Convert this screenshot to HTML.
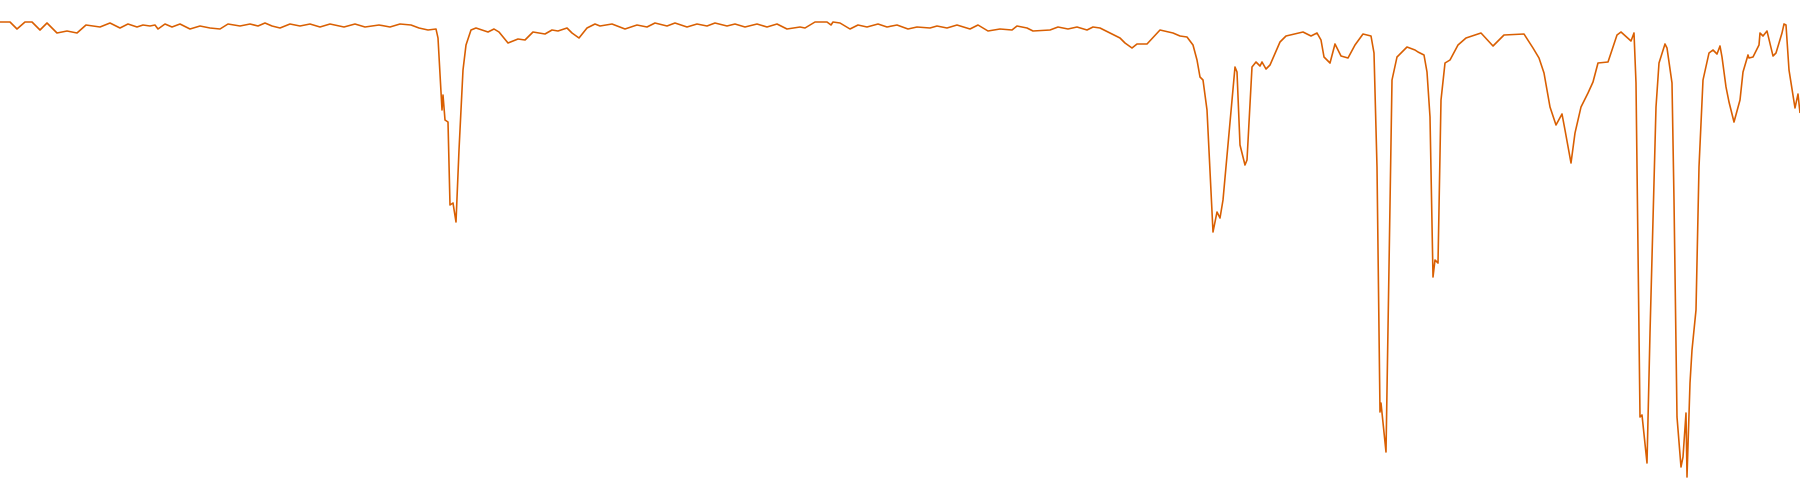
<!DOCTYPE html>
<html><head><meta charset="utf-8"><style>html,body{margin:0;padding:0;background:#fff;width:1800px;height:500px;overflow:hidden}</style></head>
<body>
<svg id="chart" width="1800" height="500" xmlns="http://www.w3.org/2000/svg"></svg>
<script>
const xValues = [0,10,17,25,32,40,47,57,67,77,86,100,110,120,128,137,143,150,155,158,165,172,180,190,200,210,220,228,240,250,258,265,272,280,290,300,310,320,330,344,355,365,379,390,400,411,419,428,436,438,442,443,445,448,450,453,456,459,463,466,471,476,482,488,494,499,
508,518,525,533,545,552,558,567,572,579,587,595,600,612,625,637,647,655,667,675,687,697,707,715,727,735,745,757,767,777,787,800,
805,815,827,831,833,840,850,858,867,878,887,897,908,917,930,937,947,957,970,978,988,1000,1012,1017,1027,1033,1050,1058,1068,1077,1087,1093,
1100,1110,1120,1125,1132,1137,1147,1160,1173,1180,1187,1193,1197,1200,1203,1207,1213,1217,1220,1223,1235,1237,1240,1245,1247,1252,1256,1260,1262,1266,1270,1280,1286,1303,1311,1317,1321,1324,1330,1335,1341,1348,1355,1363,1371,1374,1377,1380,1381,1386,1389,1392,1397,1407,1415,1418,1424,1427,1430,1433,1435,1438,1441,1445,1450,1458,1466,1481,1493,1504,1524,1533,1539,1544,1550,1556,1562,1565,1571,1575,1581,1588,1593,1598,1608,1613,1617,1621,1631,1634,1636,1640,1642,1647,1650,1656,1659,1665,1667,1672,1674,1677,1681,1683,1686,1687,1690,1692,1696,1699,1703,1709,1713,1717,1720,1722,1726,1729,1734,1740,1743,1748,1749,1753,1759,1760,1763,1767,1773,1776,1782,1784,1786,1789,1795,1798,1800];
const depthValues = [22,22,29,22,22,30,23,33,31,33,25,27,23,28,24,27,25,26,25,29,24,27,24,29,26,28,29,24,26,24,26,23,26,28,24,26,24,27,24,27,24,27,25,27,24,25,28,30,29,38,110,95,120,122,205,203,222,150,70,45,30,28,30,32,29,32,
43,39,40,32,34,30,31,28,33,38,28,24,26,24,29,25,27,23,26,23,27,24,26,23,26,24,27,24,27,24,29,27,
28,22,22,25,22,23,29,25,27,24,27,25,29,27,28,26,28,25,29,25,31,29,30,26,28,31,30,27,29,27,30,27,
28,33,38,43,48,44,44,30,33,36,37,45,60,77,80,110,232,212,218,200,67,72,145,165,160,67,62,66,62,69,65,42,36,32,36,33,40,57,63,44,56,58,45,34,36,53,167,412,403,452,267,80,57,47,50,52,55,72,117,277,260,263,100,63,60,45,38,33,46,35,34,48,58,73,107,125,114,130,163,133,107,93,82,63,62,47,35,32,41,33,83,417,415,463,333,107,63,44,48,83,200,417,467,457,413,477,383,350,310,167,80,53,50,54,46,57,87,102,122,100,72,55,58,57,45,33,36,31,56,53,33,24,25,70,108,94,113];
const xScale = v => v / 1800 * 1800;
const yScale = v => v / 500 * 500;
const svg = document.getElementById('chart');
let d = '';
const n = Math.min(xValues.length, depthValues.length);
for (let i = 0; i < n; i++) {
  d += (i ? 'L' : 'M') + xScale(xValues[i]).toFixed(1) + ',' + yScale(depthValues[i]).toFixed(1);
}
const p = document.createElementNS('http://www.w3.org/2000/svg','path');
p.setAttribute('d', d);
p.setAttribute('fill','none');
p.setAttribute('stroke','#d95f02');
p.setAttribute('stroke-width','1.6');
p.setAttribute('stroke-linejoin','round');


svg.appendChild(p);
</script>
</body></html>
